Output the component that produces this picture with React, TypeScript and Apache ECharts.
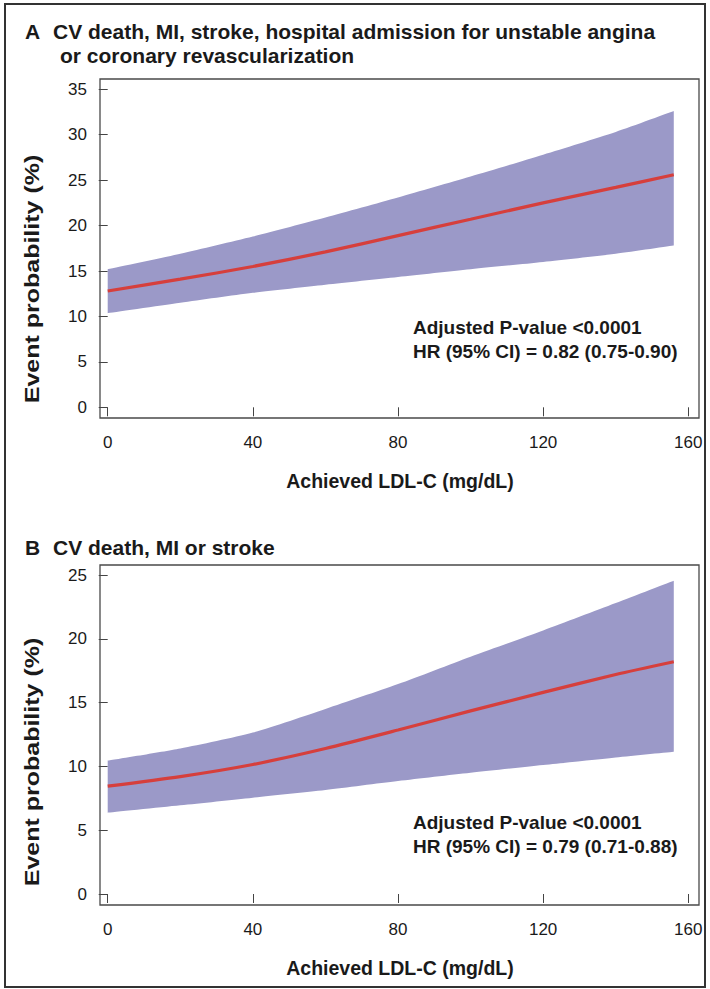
import React, { useEffect, useRef } from "react";
import * as echarts from "echarts";

// Achieved LDL-C (mg/dL) sample points along the fitted curves
const ldl = [0, 20, 40, 60, 80, 100, 120, 140, 156];

// Panel A: CV death, MI, stroke, hospital admission for UA or coronary revascularization
const aEstimate = [12.8, 14.1, 15.5, 17.1, 18.9, 20.7, 22.5, 24.2, 25.6];
const aLower = [10.35, 11.5, 12.6, 13.5, 14.35, 15.2, 16.0, 16.9, 17.8];
const aUpper = [15.2, 16.9, 18.8, 20.9, 23.1, 25.4, 27.8, 30.3, 32.6];

// Panel B: CV death, MI or stroke
const bEstimate = [8.45, 9.2, 10.15, 11.4, 12.85, 14.35, 15.8, 17.2, 18.2];
const bLower = [6.37, 6.95, 7.55, 8.15, 8.85, 9.5, 10.1, 10.7, 11.15];
const bUpper = [10.45, 11.4, 12.65, 14.5, 16.45, 18.6, 20.65, 22.8, 24.55];

// Axis ticks
const xTicks = [0, 40, 80, 120, 160];
const aYTicks = [0, 5, 10, 15, 20, 25, 30, 35];
const bYTicks = [0, 5, 10, 15, 20, 25];

const titleA1 = "CV death, MI, stroke, hospital admission for unstable angina";
const titleA2 = "or coronary revascularization";
const titleB = "CV death, MI or stroke";
const xTitle = "Achieved LDL-C (mg/dL)";
const yTitle = "Event probability (%)";
const annA = ["Adjusted P-value <0.0001", "HR (95% CI) = 0.82 (0.75-0.90)"];
const annB = ["Adjusted P-value <0.0001", "HR (95% CI) = 0.79 (0.71-0.88)"];

const FONT = "'Liberation Sans', Arial, Helvetica, sans-serif";
const BAND = "#9b99c8";
const RED = "#d63f3c";
const INK = "#1a1a1a";
const SMOOTH = 0.25;

function pairs(xs: number[], ys: number[]) {
  return xs.map((x, i) => [x, ys[i]]);
}
// [y, x] order so that stacking happens on the y dimension
function yxPairs(xs: number[], ys: number[]) {
  return xs.map((x, i) => [ys[i], x]);
}

function xAxisFor(gridIndex: number, offset: number) {
  return {
    type: "value",
    gridIndex,
    min: xTicks[0],
    max: xTicks[xTicks.length - 1],
    interval: xTicks[1] - xTicks[0],
    offset,
    axisLine: { show: false },
    axisTick: { show: true, length: 9, lineStyle: { color: "#444", width: 1 } },
    axisLabel: { color: INK, fontSize: 17, margin: 16, fontFamily: FONT },
    splitLine: { show: false },
  };
}
function yAxisFor(gridIndex: number, ticks: number[], offset: number) {
  return {
    type: "value",
    gridIndex,
    min: ticks[0],
    max: ticks[ticks.length - 1],
    interval: ticks[1] - ticks[0],
    offset,
    axisLine: { show: false },
    axisTick: { show: true, length: 9, lineStyle: { color: "#444", width: 1 } },
    axisLabel: { color: INK, fontSize: 17, margin: 13, fontFamily: FONT },
    splitLine: { show: false },
  };
}

function bandSeries(idx: number, lo: number[], hi: number[], est: number[]) {
  const stack = "ci" + idx;
  const width = hi.map((h, i) => +(h - lo[i]).toFixed(3));
  return [
    {
      // lower confidence limit (invisible base of the stack)
      type: "line",
      xAxisIndex: idx,
      yAxisIndex: idx,
      stack,
      data: yxPairs(ldl, lo),
      encode: { x: 1, y: 0 },
      symbol: "none",
      smooth: SMOOTH,
      lineStyle: { width: 0, opacity: 0 },
      z: 2,
      silent: true,
    },
    {
      // width of the confidence band stacked on the lower limit
      type: "line",
      xAxisIndex: idx,
      yAxisIndex: idx,
      stack,
      data: yxPairs(ldl, width),
      encode: { x: 1, y: 0 },
      symbol: "none",
      smooth: SMOOTH,
      lineStyle: { width: 0, opacity: 0 },
      areaStyle: { color: BAND, opacity: 1 },
      z: 2,
      silent: true,
    },
    {
      type: "line",
      xAxisIndex: idx,
      yAxisIndex: idx,
      data: pairs(ldl, est),
      symbol: "none",
      smooth: SMOOTH,
      lineStyle: { color: RED, width: 3.2 },
      z: 5,
      silent: true,
    },
  ];
}

function txt(x: number, y: number, text: string, size: number, weight: string | number, extra: any = {}) {
  const { align, ...rest } = extra;
  return {
    type: "text",
    x,
    y,
    silent: true,
    z: 100,
    ...rest,
    style: {
      text,
      fill: INK,
      fontSize: size,
      fontWeight: weight,
      fontFamily: FONT,
      textAlign: align || "left",
      textVerticalAlign: "middle",
    },
  };
}

export default function App() {
  const ref = useRef<HTMLDivElement>(null);
  useEffect(() => {
    document.body.style.margin = "0";
    if (!ref.current) return;
    const chart = echarts.init(ref.current, null, { renderer: "svg" });
    const option: any = {
      animation: false,
      backgroundColor: "#ffffff",
      grid: [
        { left: 107.7, top: 89.3, width: 580.6, height: 318, containLabel: false },
        { left: 107.7, top: 575, width: 580.6, height: 319, containLabel: false },
      ],
      xAxis: [xAxisFor(0, 10.7), xAxisFor(1, 11)],
      yAxis: [yAxisFor(0, aYTicks, 7.7), yAxisFor(1, bYTicks, 7.7)],
      series: [
        ...bandSeries(0, aLower, aUpper, aEstimate),
        ...bandSeries(1, bLower, bUpper, bEstimate),
      ],
      graphic: [
        {
          type: "rect",
          silent: true,
          z: 90,
          shape: { x: 5, y: 4, width: 700, height: 983 },
          style: { fill: "none", stroke: "#333", lineWidth: 2 },
        },
        {
          type: "rect",
          silent: true,
          z: 90,
          shape: { x: 100, y: 79, width: 599, height: 339 },
          style: { fill: "none", stroke: "#4a4a4a", lineWidth: 1.3 },
        },
        {
          type: "rect",
          silent: true,
          z: 90,
          shape: { x: 100, y: 565, width: 599, height: 340 },
          style: { fill: "none", stroke: "#4a4a4a", lineWidth: 1.3 },
        },
        txt(25, 31, "A", 21, "bold"),
        txt(53, 31, titleA1, 21, "bold"),
        txt(60, 55, titleA2, 21, "bold"),
        txt(25, 547, "B", 21, "bold"),
        txt(53, 547, titleB, 21, "bold"),
        txt(400, 481, xTitle, 19.5, "bold", { align: "center" }),
        txt(400, 968, xTitle, 19.5, "bold", { align: "center" }),
        txt(32, 279, yTitle, 20, "bold", { align: "center", rotation: Math.PI / 2, scaleX: 1.25 }),
        txt(32, 762, yTitle, 20, "bold", { align: "center", rotation: Math.PI / 2, scaleX: 1.25 }),
        txt(413, 327, annA[0], 19, "bold"),
        txt(413, 351, annA[1], 19, "bold"),
        txt(413, 822, annB[0], 19, "bold"),
        txt(413, 846, annB[1], 19, "bold"),
      ],
    };
    chart.setOption(option);
    return () => chart.dispose();
  }, []);
  return <div ref={ref} style={{ width: 710, height: 989 }} />;
}
